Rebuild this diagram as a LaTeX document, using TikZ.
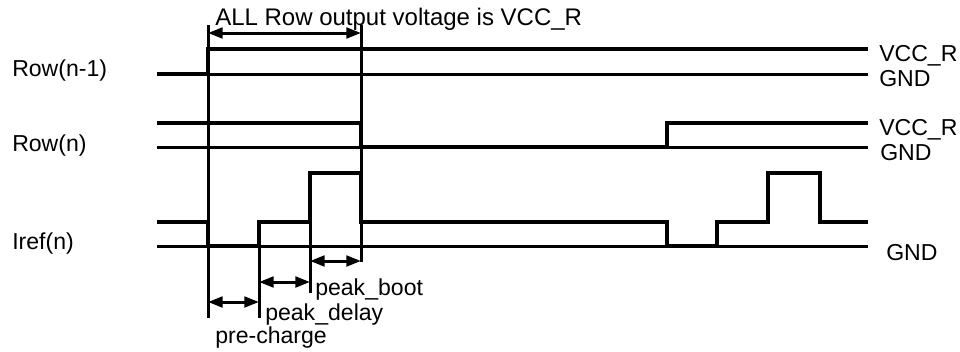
\documentclass[tikz,border=0pt]{standalone}
\usepackage{fontspec}
\setmainfont{Liberation Sans}
\usetikzlibrary{arrows.meta}

\tikzset{
  wave/.style={line width=3pt, line join=miter},
  guide/.style={line width=2.25pt},
  mark line/.style={line width=2.25pt},
  dim/.style={line width=2.25pt, {Triangle[length=11pt,width=8pt]}-{Triangle[length=11pt,width=8pt]}},
  lbl/.style={anchor=base west, inner sep=0pt, font=\fontsize{17.3}{20}\selectfont}
}

\begin{document}
\begin{tikzpicture}[x=0.75pt, y=-0.75pt]
    \useasboundingbox (0,0) rectangle (960,351);
    % time marks
    \coordinate (t0top) at (208,25);  \coordinate (t0bot) at (208,318);
    \coordinate (t1top) at (259,222); \coordinate (t1bot) at (259,318);
    \coordinate (t2top) at (310,173); \coordinate (t2bot) at (310,293);
    \coordinate (t3top) at (361,25);  \coordinate (t3bot) at (361,262);
    % dimension ends
    \coordinate (allL) at (208,33);   \coordinate (allR) at (361,33);
    \coordinate (pcL) at (208,302);   \coordinate (pcR) at (259,302);
    \coordinate (pdL) at (259,282);   \coordinate (pdR) at (310,282);
    \coordinate (pbL) at (310,261);   \coordinate (pbR) at (361,261);

    % Row(n-1)
    \draw[guide] (157,74) -- (868,74);
    \draw[wave] (157,74) -- (208,74) -- (208,49) -- (868,49);
    % Row(n)
    \draw[guide] (157,147) -- (868,147);
    \draw[wave] (157,123) -- (361,123) -- (361,147) -- (667,147) -- (667,123) -- (868,123);
    % Iref(n)
    \draw[guide] (157,246) -- (868,246);
    \draw[wave] (157,222) -- (208,222) -- (208,246) -- (259,246) -- (259,222)
        -- (310,222) -- (310,173) -- (361,173) -- (361,222) -- (667,222)
        -- (667,246) -- (717,246) -- (717,222) -- (768,222) -- (768,173)
        -- (820,173) -- (820,222) -- (868,222);

    \draw[mark line] (t0top) -- (t0bot);
    \draw[mark line] (t1top) -- (t1bot);
    \draw[mark line] (t2top) -- (t2bot);
    \draw[mark line] (t3top) -- (t3bot);

    \draw[dim] (allL) -- (allR);
    \draw[dim] (pcL) -- (pcR);
    \draw[dim] (pdL) -- (pdR);
    \draw[dim] (pbL) -- (pbR);

    % labels
    \node[lbl, font=\fontsize{18}{20}\selectfont] (title) at (215,25) {ALL Row output voltage is VCC\_R};
    \node[lbl] (rowprev) at (12,76) {Row(n-1)};
    \node[lbl] (rowcur) at (12,151) {Row(n)};
    \node[lbl] (iref) at (12,249) {Iref(n)};
    \node[lbl] (vccA) at (879,61) {VCC\_R};
    \node[lbl] (gndA) at (879,86) {GND};
    \node[lbl] (vccB) at (879,135) {VCC\_R};
    \node[lbl] (gndB) at (880,160) {GND};
    \node[lbl] (gndC) at (886,260) {GND};
    \node[lbl] (precharge) at (215,343) {pre-charge};
    \node[lbl] (peakdelay) at (265,320) {peak\_delay};
    \node[lbl] (peakboot) at (315,295) {peak\_boot};
\end{tikzpicture}
\end{document}
